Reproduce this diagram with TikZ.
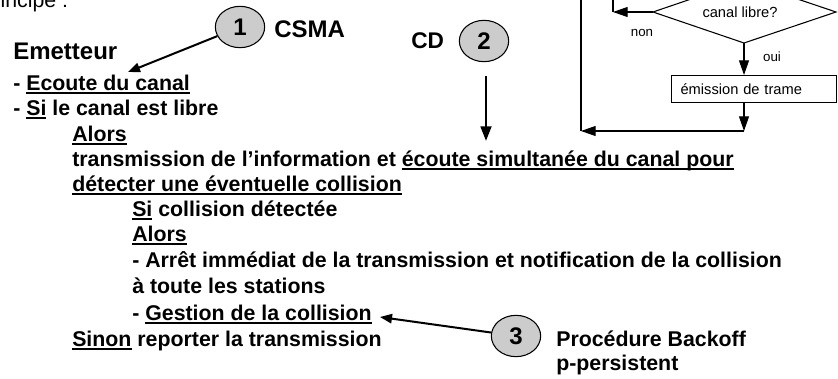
\documentclass[tikz,border=0pt]{standalone}
\usepackage{fontspec}
\setmainfont{Liberation Sans}
\usetikzlibrary{arrows.meta,shapes.geometric}

% underline at a fixed depth below the baseline
\newcommand{\undl}[1]{\leavevmode\setbox0\hbox{#1}\rlap{\rule[-2.8pt]{\wd0}{1.2pt}}\box0\relax}

\tikzset{
  body/.style={anchor=base west, inner sep=0pt, font=\fontsize{16}{19}\selectfont\bfseries},
  head/.style={anchor=base west, inner sep=0pt, font=\fontsize{18}{21}\selectfont\bfseries},
  plain/.style={anchor=base west, inner sep=0pt, font=\fontsize{16}{19}\selectfont},
  badge/.style={ellipse, draw=black, line width=0.8pt, fill=gray!40, inner sep=0pt,
    minimum width=37pt, minimum height=31pt, font=\fontsize{18}{21}\selectfont\bfseries},
  pointer/.style={line width=1.5pt, -{Triangle[length=9pt,width=7pt]}},
  downarrow/.style={line width=2pt, -{Triangle[length=11pt,width=8pt]}},
  flow/.style={line width=0.8pt},
  flowarrow/.style={flow, -{Triangle[length=11pt,width=7.5pt]}},
  flowtext/.style={inner sep=0pt, font=\fontsize{11}{13}\selectfont},
  flowlabel/.style={inner sep=0pt, font=\fontsize{10}{12}\selectfont}
}

\begin{document}
\begin{tikzpicture}[x=0.75pt,y=-0.75pt]
\useasboundingbox (0,0) rectangle (838,378);
\clip (0,0) rectangle (838,378);

% heading cut by the top edge
\node[plain] (princ) at (-21,8) {Principe :};

% numbered badges and their captions
\node[badge] (c1) at (240,27) {1};
\node[head] (csma) at (274,38) {CSMA};
\node[plain, font=\fontsize{17}{20}\selectfont\bfseries] (cd) at (411,49) {CD};
\node[badge] (c2) at (484,41) {2};
\node[badge] (c3) at (516,336) {3};
\node[body] (proc) at (556,346) {Procédure Backoff};
\node[body] (ppers) at (556,370) {p-persistent};

% algorithm text
\node[head] (emet) at (13,60) {Emetteur};
\node[body] (l1) at (13,90) {- \undl{Ecoute du canal}};
\node[body] (l2) at (13,115) {- \undl{Si} le canal est libre};
\node[body] (l3) at (72,141) {\undl{Alors}};
\node[body] (l4) at (72,166) {transmission de l’information et \undl{écoute simultanée du canal pour}};
\node[body] (l5) at (72,191) {\undl{détecter une éventuelle collision}};
\node[body] (l6) at (132,216) {\undl{Si} collision détectée};
\node[body] (l7) at (132,241) {\undl{Alors}};
\node[body] (l8) at (132,267) {- Arrêt immédiat de la transmission et notification de la collision};
\node[body] (l9) at (132,293) {à toute les stations};
\node[body] (l10) at (132,320) {- \undl{Gestion de la collision}};
\node[body] (l11) at (72,346) {\undl{Sinon} reporter la transmission};

% pointers from the badges
\coordinate (t1) at (128,72);
\draw[pointer] (c1) -- (t1);
\coordinate (cdA) at (486,76);
\coordinate (cdB) at (486,141);
\draw[downarrow] (cdA) -- (cdB);
\coordinate (t3) at (380,317);
\draw[pointer] (c3) -- (t3);

% flowchart fragment
\coordinate (dT) at (744,-19);
\coordinate (dR) at (836,12);
\coordinate (dB) at (744,43);
\coordinate (dL) at (653,12);
\draw[flow] (dT) -- (dR) -- (dB) -- (dL) -- cycle;
\node[flowtext] (q) at (740,12) {canal libre?};

\coordinate (nj) at (613,12);
\coordinate (ntop) at (613,-5);
\draw[flowarrow] (dL) -- (nj);
\draw[flow] (nj) -- (ntop);
\node[flowlabel] (non) at (642,33) {non};

\node[draw, flow, anchor=north west, minimum height=20.25pt, inner ysep=0pt,
      inner xsep=6.75pt, text width=110.5pt, align=left,
      font=\fontsize{11}{13}\selectfont] (em) at (671,75) {émission de trame};
\draw[flowarrow] (dB) -- (dB |- em.north);
\node[flowlabel] (oui) at (772,57) {oui};

\coordinate (bj) at (744,131);
\coordinate (lj) at (581,131);
\coordinate (ltop) at (581,-5);
\draw[flowarrow] (dB |- em.south) -- (bj);
\draw[flowarrow] (bj) -- (lj);
\draw[flow] (lj) -- (ltop);
\end{tikzpicture}
\end{document}
